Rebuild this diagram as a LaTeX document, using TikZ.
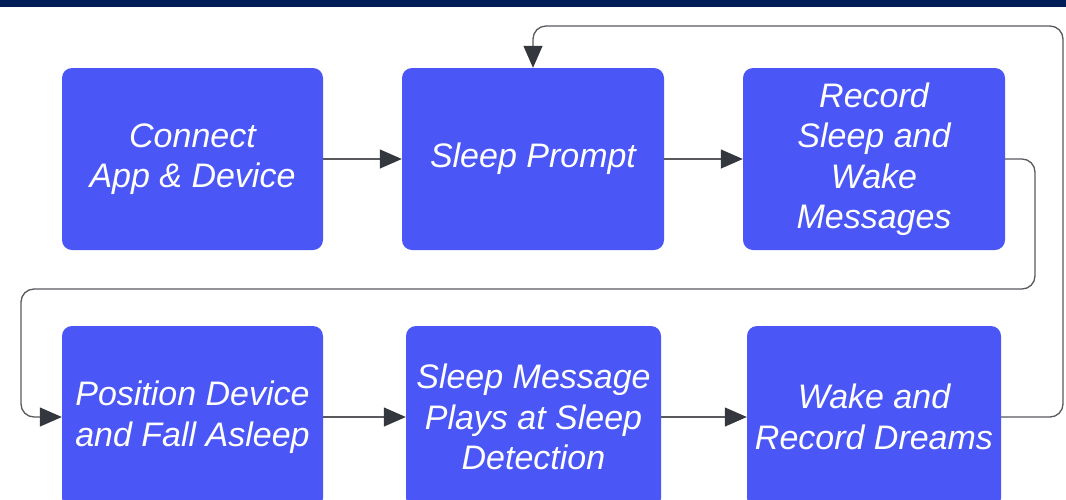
\documentclass[tikz,border=0pt]{standalone}
\usepackage{fontspec}
\setmainfont{Liberation Sans}
\usetikzlibrary{arrows.meta}
\definecolor{boxblue}{RGB}{74,86,245}
\definecolor{topbar}{RGB}{2,30,88}
\definecolor{linec}{RGB}{88,90,94}
\definecolor{tipc}{RGB}{52,56,62}
\tikzset{
  stepbox/.style={rectangle, rounded corners=10pt, fill=boxblue, draw=none,
    minimum height=182pt, inner sep=0pt, text=white, align=center,
    font=\fontsize{34}{40.5}\selectfont\itshape},
  conn/.style={draw=linec, line width=1.3pt,
    -{Triangle[length=22pt,width=19pt,color=tipc]}},
  loopconn/.style={conn, rounded corners=13pt}
}
\begin{document}
\begin{tikzpicture}[x=1pt,y=-1pt]
\useasboundingbox (0,0) rectangle (1066,499);
\clip (0,0) rectangle (1066,499);
\fill[white] (0,0) rectangle (1066,499);
\fill[topbar] (0,0) rectangle (1066,7);
% top row
\node[stepbox, minimum width=261pt] (b1) at (192.5,159) {Connect\\App \& Device};
\node[stepbox, minimum width=262pt] (b2) at (533,159) {Sleep Prompt};
\node[stepbox, minimum width=262pt] (b3) at (874,159) {Record\\Sleep and\\Wake\\Messages};
% bottom row
\node[stepbox, minimum width=261pt] (b4) at (192.5,417) {Position Device\\and Fall Asleep};
\node[stepbox, minimum width=255pt] (b5) at (533.5,417) {Sleep Message\\Plays at Sleep\\Detection};
\node[stepbox, minimum width=254pt] (b6) at (874,417) {Wake and\\Record Dreams};
% coordinates for loops
\coordinate (c1) at (1035,289);
\coordinate (c2) at (21,289);
\coordinate (r1) at (1063,26);
% connectors
\draw[conn] (b1.east) -- (b2.west);
\draw[conn] (b2.east) -- (b3.west);
\draw[loopconn] (b3.east) -| (c1) -- (c2) |- (b4.west);
\draw[conn] (b4.east) -- (b5.west);
\draw[conn] (b5.east) -- (b6.west);
\draw[loopconn] (b6.east) -| (r1) -| (b2.north);
\end{tikzpicture}
\end{document}
